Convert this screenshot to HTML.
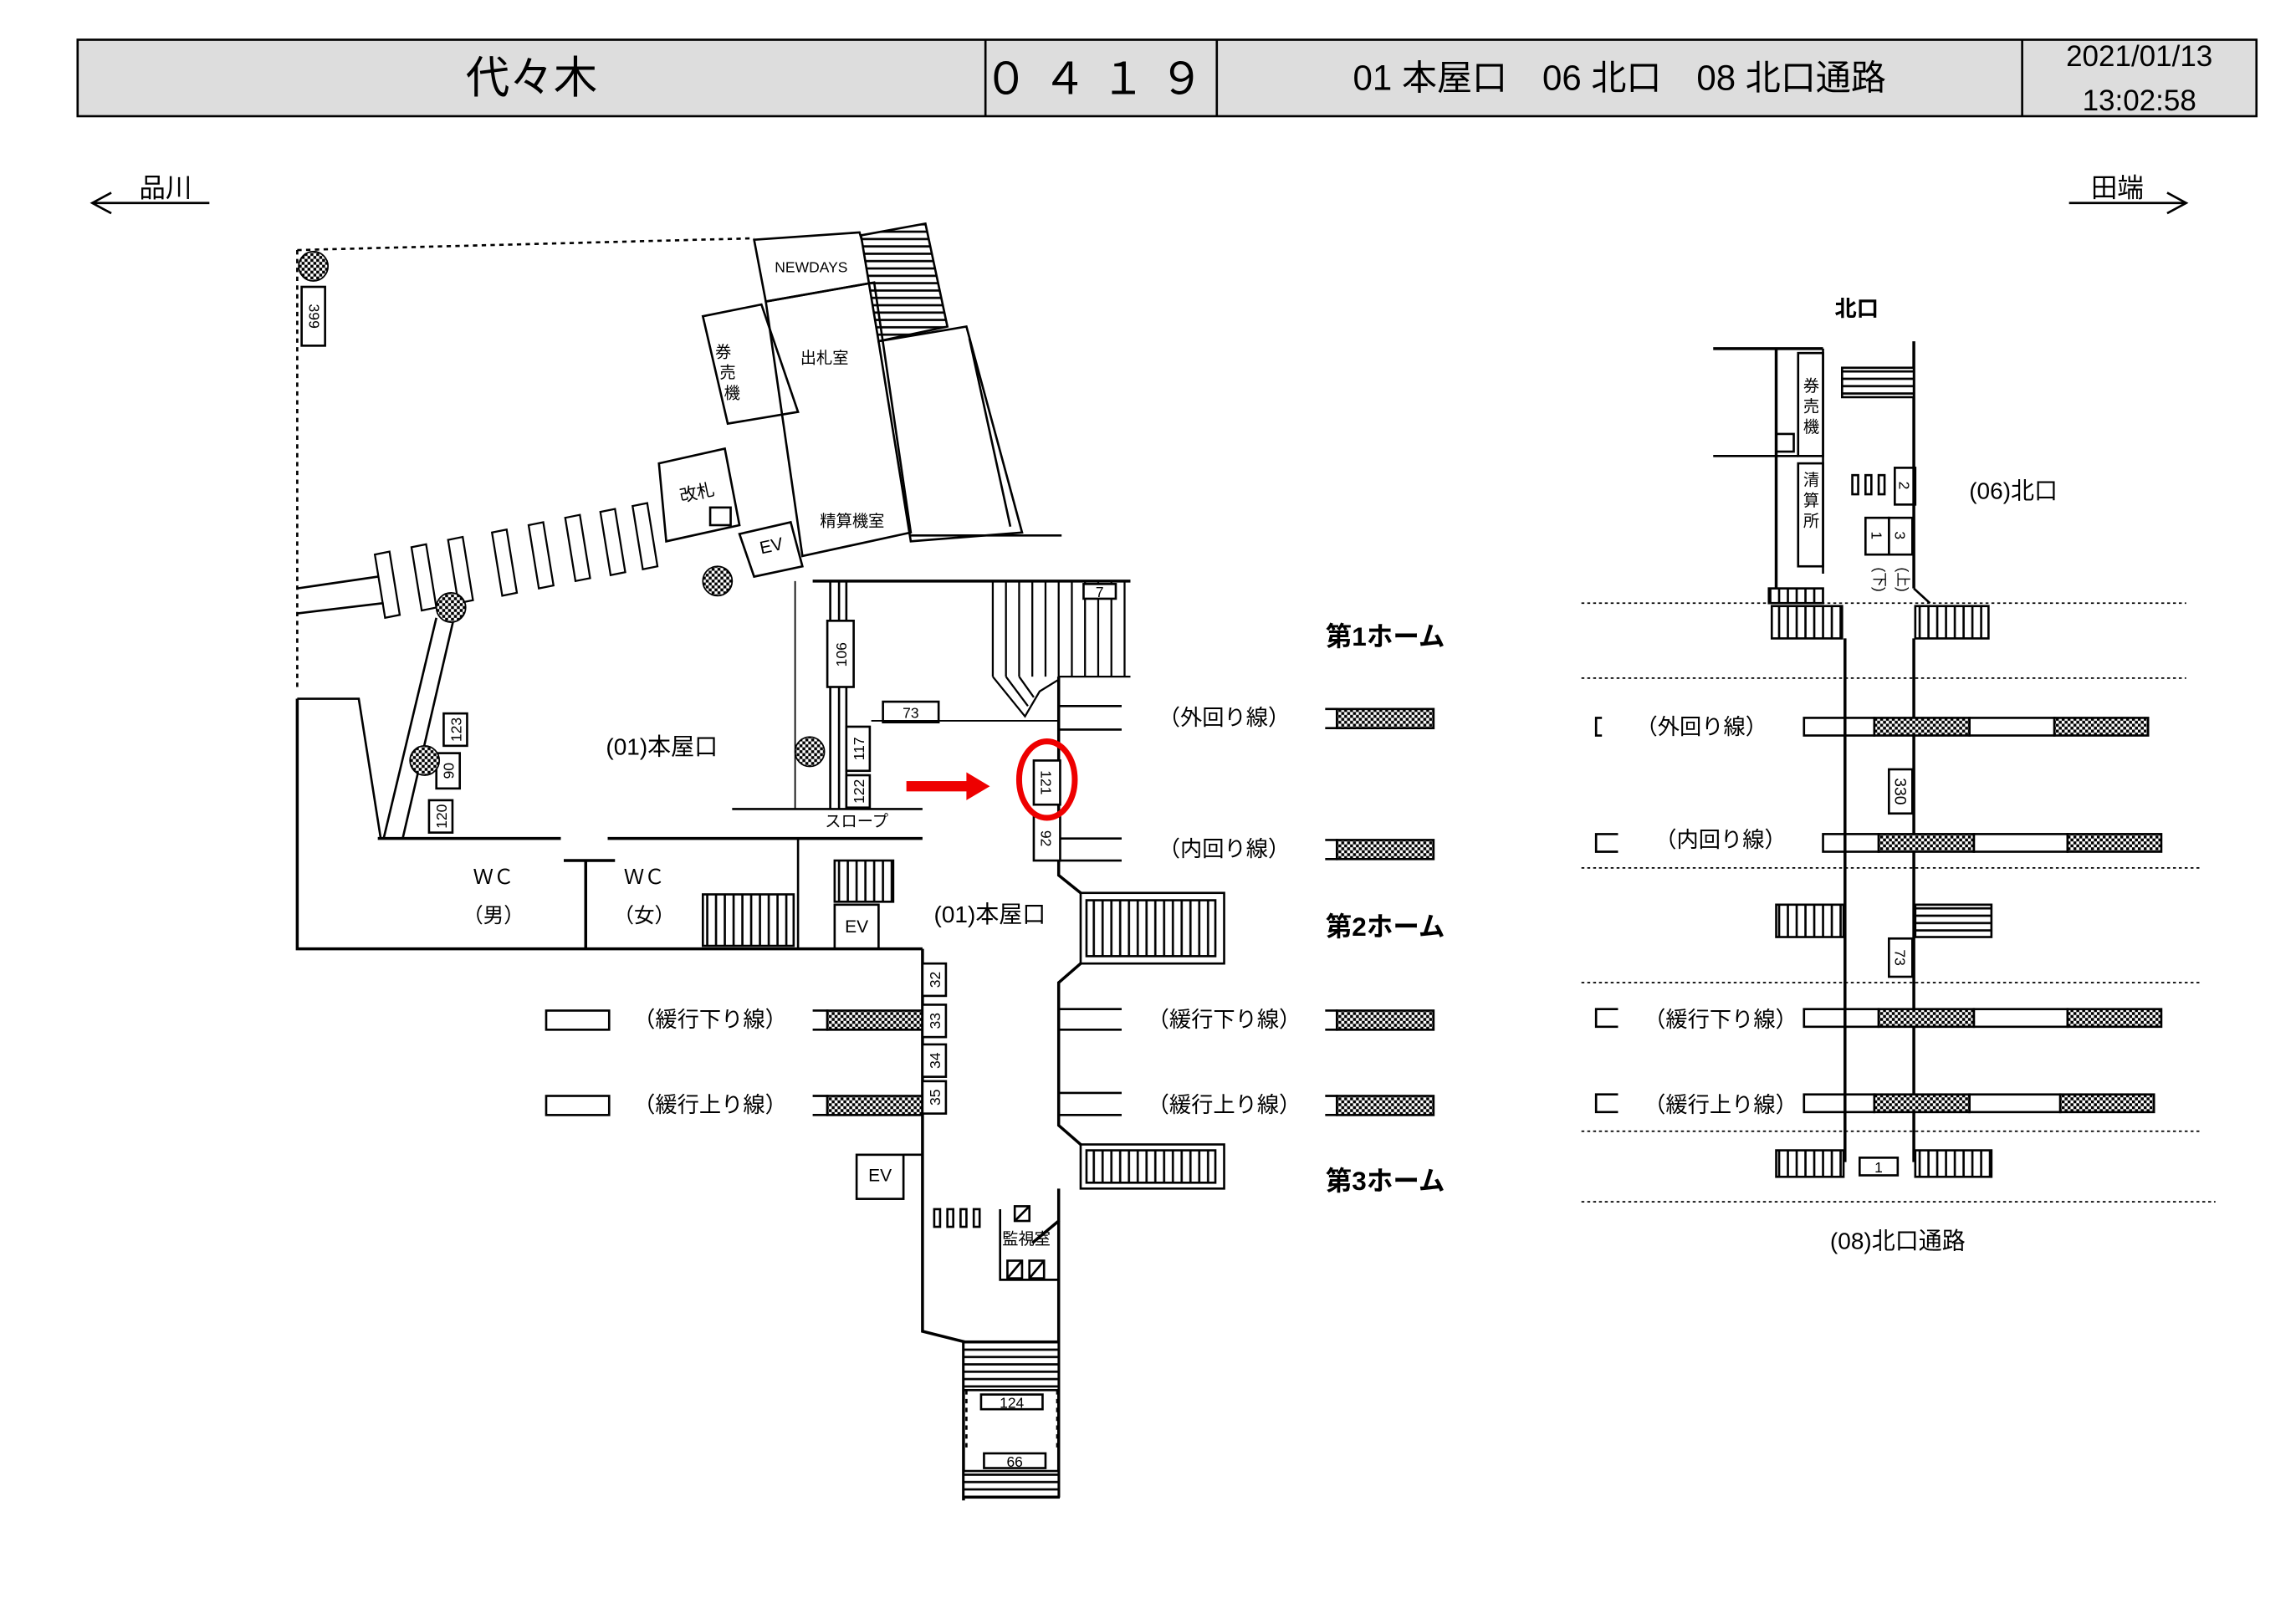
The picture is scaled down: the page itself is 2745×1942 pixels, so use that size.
<!DOCTYPE html>
<html><head><meta charset="utf-8">
<style>
html,body{margin:0;padding:0;background:#fff;}
svg{display:block;}
text{font-family:"Liberation Sans","Noto Sans CJK JP",sans-serif;fill:#000;}
</style></head>
<body>
<svg width="2745" height="1942" viewBox="0 0 1568 1104" preserveAspectRatio="none" xmlns="http://www.w3.org/2000/svg">
<defs>
<pattern id="ck" width="4" height="4" patternUnits="userSpaceOnUse">
<rect width="4" height="4" fill="#fff"/><rect width="2" height="2" fill="#000"/><rect x="2" y="2" width="2" height="2" fill="#000"/>
</pattern>
<pattern id="vs" width="6" height="10" patternUnits="userSpaceOnUse">
<rect width="6" height="10" fill="#fff"/><line x1="3" y1="0" x2="3" y2="10" stroke="#000" stroke-width="1.5"/>
</pattern>
<pattern id="hs" width="10" height="5" patternUnits="userSpaceOnUse">
<rect width="10" height="5" fill="#fff"/><line x1="0" y1="2.5" x2="10" y2="2.5" stroke="#000" stroke-width="1.5"/>
</pattern>
</defs>
<g fill="none" stroke="#000" stroke-width="1.5">
<rect x="53" y="27" width="1488" height="52" fill="#ddd"/>
<line x1="673" y1="27" x2="673" y2="79"/><line x1="831" y1="27" x2="831" y2="79"/><line x1="1381" y1="27" x2="1381" y2="79"/>
<line x1="63" y1="138" x2="143" y2="138"/><polyline points="76,131 63,138 76,145"/>
<line x1="1413" y1="138" x2="1493" y2="138"/><polyline points="1480,131 1493,138 1480,145"/>
</g>
<g font-size="28" text-anchor="middle">
<text x="363" y="63" font-size="30">代々木</text>
<text x="752" y="64" font-size="30" letter-spacing="10">０４１９</text>
<text x="1106" y="61" font-size="24">01 本屋口　06 北口　08 北口通路</text>
<text x="1461" y="45" font-size="20">2021/01/13</text>
<text x="1461" y="75" font-size="20">13:02:58</text>
<text x="113" y="134" font-size="18">品川</text>
<text x="1446" y="134" font-size="18">田端</text>
</g>

<g fill="none" stroke="#000" stroke-width="1.5">
<line x1="203" y1="170" x2="515" y2="162" stroke-dasharray="3,3"/>
<line x1="203" y1="170" x2="203" y2="470" stroke-dasharray="3,3"/>
<polyline points="203,475 203,645 630,645" stroke-width="2"/>
<rect x="206" y="195" width="16" height="40"/>
<line x1="203" y1="400" x2="258" y2="392"/><line x1="203" y1="417" x2="262" y2="410"/>
<polyline points="203,475 245,475 260,570"/>
<line x1="298" y1="420" x2="262" y2="570"/><line x1="310" y1="420" x2="275" y2="570"/>
<g stroke-width="1.3">
<polygon points="256,377 266,375 273,418 263,420"/>
<polygon points="281,372 291,370 298,413 288,415"/>
<polygon points="306,367 316,365 323,408 313,410"/>
<polygon points="336,362 346,360 353,403 343,405"/>
<polygon points="361,357 371,355 378,398 368,400"/>
<polygon points="386,352 396,350 403,393 393,395"/>
<polygon points="410,348 420,346 427,389 417,391"/>
<polygon points="432,344 442,342 449,385 439,387"/>
</g>
<rect x="303" y="485" width="16" height="22"/><rect x="298" y="512" width="16" height="24"/><rect x="293" y="544" width="16" height="22"/>
<line x1="258" y1="570" x2="383" y2="570" stroke-width="2"/><line x1="415" y1="570" x2="630" y2="570" stroke-width="2"/>
<line x1="400" y1="585" x2="400" y2="645" stroke-width="2"/><line x1="385" y1="585" x2="420" y2="585" stroke-width="2"/>
<rect x="480" y="608" width="62" height="35" fill="url(#vs)"/>
<rect x="570" y="585" width="40" height="28" fill="url(#vs)"/>
<rect x="570" y="615" width="30" height="30"/>
<line x1="545" y1="570" x2="545" y2="645"/>
<line x1="500" y1="550" x2="630" y2="550"/>
<line x1="543" y1="395" x2="543" y2="550" stroke-width="1"/>
<line x1="567" y1="395" x2="567" y2="550"/><line x1="573" y1="395" x2="573" y2="550"/><line x1="578" y1="395" x2="578" y2="550"/>
<rect x="565" y="422" width="18" height="45" fill="#fff"/>
<rect x="578" y="494" width="16" height="30" fill="#fff"/><rect x="578" y="527" width="16" height="22" fill="#fff"/>
<rect x="603" y="477" width="38" height="14"/>
<line x1="595" y1="490" x2="723" y2="490" stroke-width="1"/>
<line x1="555" y1="395" x2="772" y2="395" stroke-width="2"/>
<g stroke-width="1.3">
<line x1="678" y1="395" x2="678" y2="460"/><line x1="687" y1="395" x2="687" y2="460"/><line x1="696" y1="395" x2="696" y2="460"/><line x1="705" y1="395" x2="705" y2="460"/>
<line x1="714" y1="395" x2="714" y2="460"/><line x1="723" y1="395" x2="723" y2="460"/><line x1="732" y1="395" x2="732" y2="460"/><line x1="741" y1="395" x2="741" y2="460"/>
<line x1="750" y1="395" x2="750" y2="460"/><line x1="759" y1="395" x2="759" y2="460"/><line x1="768" y1="395" x2="768" y2="460"/>
<polyline points="678,460 700,487 710,470 723,462"/>
<line x1="687" y1="460" x2="702" y2="480"/><line x1="696" y1="460" x2="706" y2="474"/>
<line x1="723" y1="460" x2="772" y2="460"/>
</g>
<rect x="740" y="397" width="22" height="10" fill="#fff"/>
<polyline points="723,460 723,595 738,607" stroke-width="2"/>
<rect x="738" y="607" width="98" height="48" />
<rect x="742" y="612" width="88" height="38" fill="url(#vs)"/>
<polyline points="738,655 723,668 723,765 738,778" stroke-width="2"/>
<rect x="738" y="778" width="98" height="30"/>
<rect x="742" y="782" width="88" height="22" fill="url(#vs)"/>
<polyline points="723,808 723,830 705,845" stroke-width="2"/>
<line x1="723" y1="480" x2="766" y2="480"/><line x1="723" y1="496" x2="766" y2="496"/>
<line x1="723" y1="570" x2="766" y2="570"/><line x1="723" y1="585" x2="766" y2="585"/>
<line x1="723" y1="686" x2="766" y2="686"/><line x1="723" y1="700" x2="766" y2="700"/>
<line x1="723" y1="743" x2="766" y2="743"/><line x1="723" y1="758" x2="766" y2="758"/>
<rect x="706" y="517" width="18" height="30" fill="#fff"/>
<rect x="706" y="555" width="18" height="30" fill="#fff"/>
<g>
<polyline points="905,482 913,482 913,495 905,495"/><rect x="913" y="482" width="66" height="13" fill="url(#ck)"/>
<polyline points="905,571 913,571 913,584 905,584"/><rect x="913" y="571" width="66" height="13" fill="url(#ck)"/>
<polyline points="905,687 913,687 913,700 905,700"/><rect x="913" y="687" width="66" height="13" fill="url(#ck)"/>
<polyline points="905,745 913,745 913,758 905,758"/><rect x="913" y="745" width="66" height="13" fill="url(#ck)"/>
</g>
<rect x="373" y="687" width="43" height="13"/><rect x="373" y="745" width="43" height="13"/>
<polyline points="555,687 565,687 565,700 555,700"/><rect x="565" y="687" width="65" height="13" fill="url(#ck)"/>
<polyline points="555,745 565,745 565,758 555,758"/><rect x="565" y="745" width="65" height="13" fill="url(#ck)"/>
<polyline points="630,645 630,905 658,912 658,1020" stroke-width="2"/>
<line x1="723" y1="830" x2="723" y2="1018" stroke-width="2"/>
<rect x="630" y="655" width="16" height="22" fill="#fff"/><rect x="630" y="683" width="16" height="22" fill="#fff"/>
<rect x="630" y="710" width="16" height="22" fill="#fff"/><rect x="630" y="735" width="16" height="22" fill="#fff"/>
<rect x="585" y="785" width="32" height="30"/>
<line x1="617" y1="785" x2="630" y2="785"/>
<rect x="638" y="822" width="4" height="12"/><rect x="647" y="822" width="4" height="12"/><rect x="656" y="822" width="4" height="12"/><rect x="665" y="822" width="4" height="12"/>
<polyline points="683,822 683,870 723,870"/>
<rect x="693" y="820" width="10" height="10"/><line x1="693" y1="830" x2="703" y2="820"/>
<rect x="688" y="857" width="10" height="12"/><line x1="688" y1="869" x2="698" y2="857"/>
<rect x="703" y="857" width="10" height="12"/><line x1="703" y1="869" x2="713" y2="857"/>
<rect x="658" y="912" width="65" height="33" fill="url(#hs)"/>
<rect x="670" y="948" width="42" height="10"/>
<line x1="660" y1="945" x2="660" y2="985" stroke-dasharray="3,3"/><line x1="722" y1="945" x2="722" y2="985" stroke-dasharray="3,3"/>
<rect x="672" y="988" width="42" height="10"/>
<rect x="658" y="1000" width="65" height="18" fill="url(#hs)"/>
<polygon points="515,163 587,158 597,192 523,205"/>
<polygon points="588,160 632,152 647,222 600,232" fill="url(#hs)"/>
<polygon points="523,205 597,192 622,362 548,378"/>
<polygon points="600,232 660,222 698,362 622,368"/>
<line x1="662" y1="230" x2="690" y2="358"/>
<polygon points="480,215 520,207 545,280 497,288"/>
<polygon points="450,315 495,305 505,357 455,368"/>
<rect x="485" y="345" width="14" height="12"/>
<polygon points="505,363 540,355 548,385 515,392"/>
<line x1="622" y1="364" x2="725" y2="364"/>
<ellipse cx="715" cy="530" rx="19" ry="26" stroke="#e00" stroke-width="4"/>
</g>
<rect x="619" y="531" width="44" height="7" fill="#e00"/>
<polygon points="660,525 676,534.5 660,544" fill="#e00"/>
<g fill="url(#ck)" stroke="#000" stroke-width="1">
<circle cx="214" cy="181" r="10"/><circle cx="308" cy="413" r="10"/><circle cx="290" cy="517" r="10"/><circle cx="490" cy="395" r="10"/><circle cx="553" cy="511" r="10"/>
</g>
<g font-size="10" text-anchor="middle">
<text transform="translate(214,215) rotate(90)" y="3">399</text>
<text transform="translate(311,496) rotate(-90)" y="4">123</text>
<text transform="translate(306,524) rotate(-90)" y="4">90</text>
<text transform="translate(301,555) rotate(-90)" y="4">120</text>
<text transform="translate(574,445) rotate(-90)" y="4">106</text>
<text transform="translate(586,509) rotate(-90)" y="4">117</text>
<text transform="translate(586,538) rotate(-90)" y="4">122</text>
<text x="622" y="488">73</text>
<text x="751" y="406">7</text>
<text transform="translate(715,532) rotate(90)" y="4">121</text>
<text transform="translate(715,570) rotate(90)" y="4">92</text>
<text transform="translate(638,666) rotate(-90)" y="4">32</text>
<text transform="translate(638,694) rotate(-90)" y="4">33</text>
<text transform="translate(638,721) rotate(-90)" y="4">34</text>
<text transform="translate(638,746) rotate(-90)" y="4">35</text>
<text x="691" y="957">124</text>
<text x="693" y="997">66</text>
<text x="554" y="185">NEWDAYS</text>
<text x="563" y="247" font-size="11">出札室</text>
<text x="582" y="358" font-size="11">精算機室</text>
<text x="476" y="339" font-size="12" transform="rotate(-12,476,335)">改札</text>
<text x="527" y="375" font-size="12" transform="rotate(-12,527,372)">EV</text>
<text x="585" y="634" font-size="12">EV</text>
<text x="601" y="803" font-size="12">EV</text>
<text x="701" y="846" font-size="11">監視室</text>
<text x="585" y="562" font-size="11">スロープ</text>
<text x="494" y="243" font-size="11">券</text><text x="497" y="257" font-size="11">売</text><text x="500" y="271" font-size="11">機</text>
</g>
<g font-size="14" text-anchor="middle">
<text x="337" y="601">ＷＣ</text><text x="337" y="627">（男）</text>
<text x="440" y="601">ＷＣ</text><text x="440" y="627">（女）</text>
<text x="452" y="513" font-size="16">(01)本屋口</text>
<text x="676" y="627" font-size="16">(01)本屋口</text>
<text x="836" y="493" font-size="15">（外回り線）</text>
<text x="836" y="582" font-size="15">（内回り線）</text>
<text x="836" y="698" font-size="15">（緩行下り線）</text>
<text x="836" y="756" font-size="15">（緩行上り線）</text>
<text x="485" y="698" font-size="15">（緩行下り線）</text>
<text x="485" y="756" font-size="15">（緩行上り線）</text>
<text x="946" y="439" font-size="18" font-weight="bold">第1ホーム</text>
<text x="946" y="636" font-size="18" font-weight="bold">第2ホーム</text>
<text x="946" y="809" font-size="18" font-weight="bold">第3ホーム</text>
</g>

<g fill="none" stroke="#000" stroke-width="1.5">
<line x1="1170" y1="237" x2="1245" y2="237" stroke-width="2"/>
<line x1="1213" y1="237" x2="1213" y2="400" stroke-width="2"/>
<line x1="1245" y1="237" x2="1245" y2="390"/>
<rect x="1228" y="240" width="17" height="70"/>
<rect x="1228" y="315" width="17" height="70"/>
<line x1="1170" y1="310" x2="1228" y2="310"/>
<rect x="1213" y="295" width="12" height="12"/>
<line x1="1307" y1="232" x2="1307" y2="400" stroke-width="2"/>
<line x1="1307" y1="400" x2="1318" y2="410"/>
<rect x="1258" y="250" width="49" height="20" fill="url(#hs)"/>
<rect x="1265" y="323" width="4" height="13"/><rect x="1274" y="323" width="4" height="13"/><rect x="1283" y="323" width="4" height="13"/>
<rect x="1294" y="318" width="14" height="25"/>
<rect x="1274" y="352" width="16" height="25"/><rect x="1290" y="352" width="16" height="25"/>
<g stroke-dasharray="2,2" stroke-width="1">
<line x1="1080" y1="410" x2="1493" y2="410"/><line x1="1080" y1="461" x2="1493" y2="461"/>
<line x1="1080" y1="590" x2="1503" y2="590"/><line x1="1080" y1="668" x2="1503" y2="668"/>
<line x1="1080" y1="769" x2="1503" y2="769"/><line x1="1080" y1="817" x2="1513" y2="817"/>
</g>
<rect x="1208" y="400" width="37" height="10" fill="url(#vs)"/>
<rect x="1210" y="412" width="48" height="22" fill="url(#vs)"/>
<rect x="1308" y="412" width="50" height="22" fill="url(#vs)"/>
<line x1="1260" y1="434" x2="1260" y2="790" stroke-width="2"/>
<line x1="1307" y1="434" x2="1307" y2="790" stroke-width="2"/>
<rect x="1290" y="523" width="16" height="30"/>
<rect x="1213" y="615" width="46" height="22" fill="url(#vs)"/>
<rect x="1308" y="615" width="52" height="22" fill="url(#hs)"/>
<rect x="1290" y="638" width="16" height="26"/>
<rect x="1213" y="782" width="46" height="18" fill="url(#vs)"/>
<rect x="1308" y="782" width="52" height="18" fill="url(#vs)"/>
<rect x="1270" y="787" width="26" height="12"/>
<polyline points="1094,488 1090,488 1090,500 1094,500"/>
<rect x="1232" y="488" width="48" height="12"/><rect x="1280" y="488" width="65" height="12" fill="url(#ck)"/><rect x="1345" y="488" width="58" height="12"/><rect x="1403" y="488" width="64" height="12" fill="url(#ck)"/>
<polyline points="1105,567 1090,567 1090,579 1105,579"/>
<rect x="1245" y="567" width="38" height="12"/><rect x="1283" y="567" width="65" height="12" fill="url(#ck)"/><rect x="1348" y="567" width="64" height="12"/><rect x="1412" y="567" width="64" height="12" fill="url(#ck)"/>
<polyline points="1105,686 1090,686 1090,698 1105,698"/>
<rect x="1232" y="686" width="51" height="12"/><rect x="1283" y="686" width="65" height="12" fill="url(#ck)"/><rect x="1348" y="686" width="64" height="12"/><rect x="1412" y="686" width="64" height="12" fill="url(#ck)"/>
<polyline points="1105,744 1090,744 1090,756 1105,756"/>
<rect x="1232" y="744" width="48" height="12"/><rect x="1280" y="744" width="65" height="12" fill="url(#ck)"/><rect x="1345" y="744" width="62" height="12"/><rect x="1407" y="744" width="64" height="12" fill="url(#ck)"/>
</g>
<g font-size="10" text-anchor="middle">
<text transform="translate(1301,330) rotate(90)" y="4">2</text>
<text transform="translate(1298,364) rotate(90)" y="4">3</text>
<text transform="translate(1282,364) rotate(90)" y="4">1</text>
<text transform="translate(1298,538) rotate(90)" y="4" font-size="11">330</text>
<text transform="translate(1298,651) rotate(90)" y="4">73</text>
<text x="1283" y="797">1</text>
<text x="1237" y="330" font-size="11">清</text><text x="1237" y="344" font-size="11">算</text><text x="1237" y="358" font-size="11">所</text>
<text x="1237" y="266" font-size="11">券</text><text x="1237" y="280" font-size="11">売</text><text x="1237" y="294" font-size="11">機</text>
<text transform="translate(1300,394) rotate(90)" y="4">(上)</text>
<text transform="translate(1284,394) rotate(90)" y="4">(下)</text>
</g>
<g font-size="15" text-anchor="middle">
<text x="1268" y="215" font-weight="bold">北口</text>
<text x="1375" y="339" font-size="16">(06)北口</text>
<text x="1162" y="499">（外回り線）</text>
<text x="1175" y="576">（内回り線）</text>
<text x="1175" y="698">（緩行下り線）</text>
<text x="1175" y="756">（緩行上り線）</text>
<text x="1296" y="849" font-size="16">(08)北口通路</text>
</g>
</svg>
</body></html>
